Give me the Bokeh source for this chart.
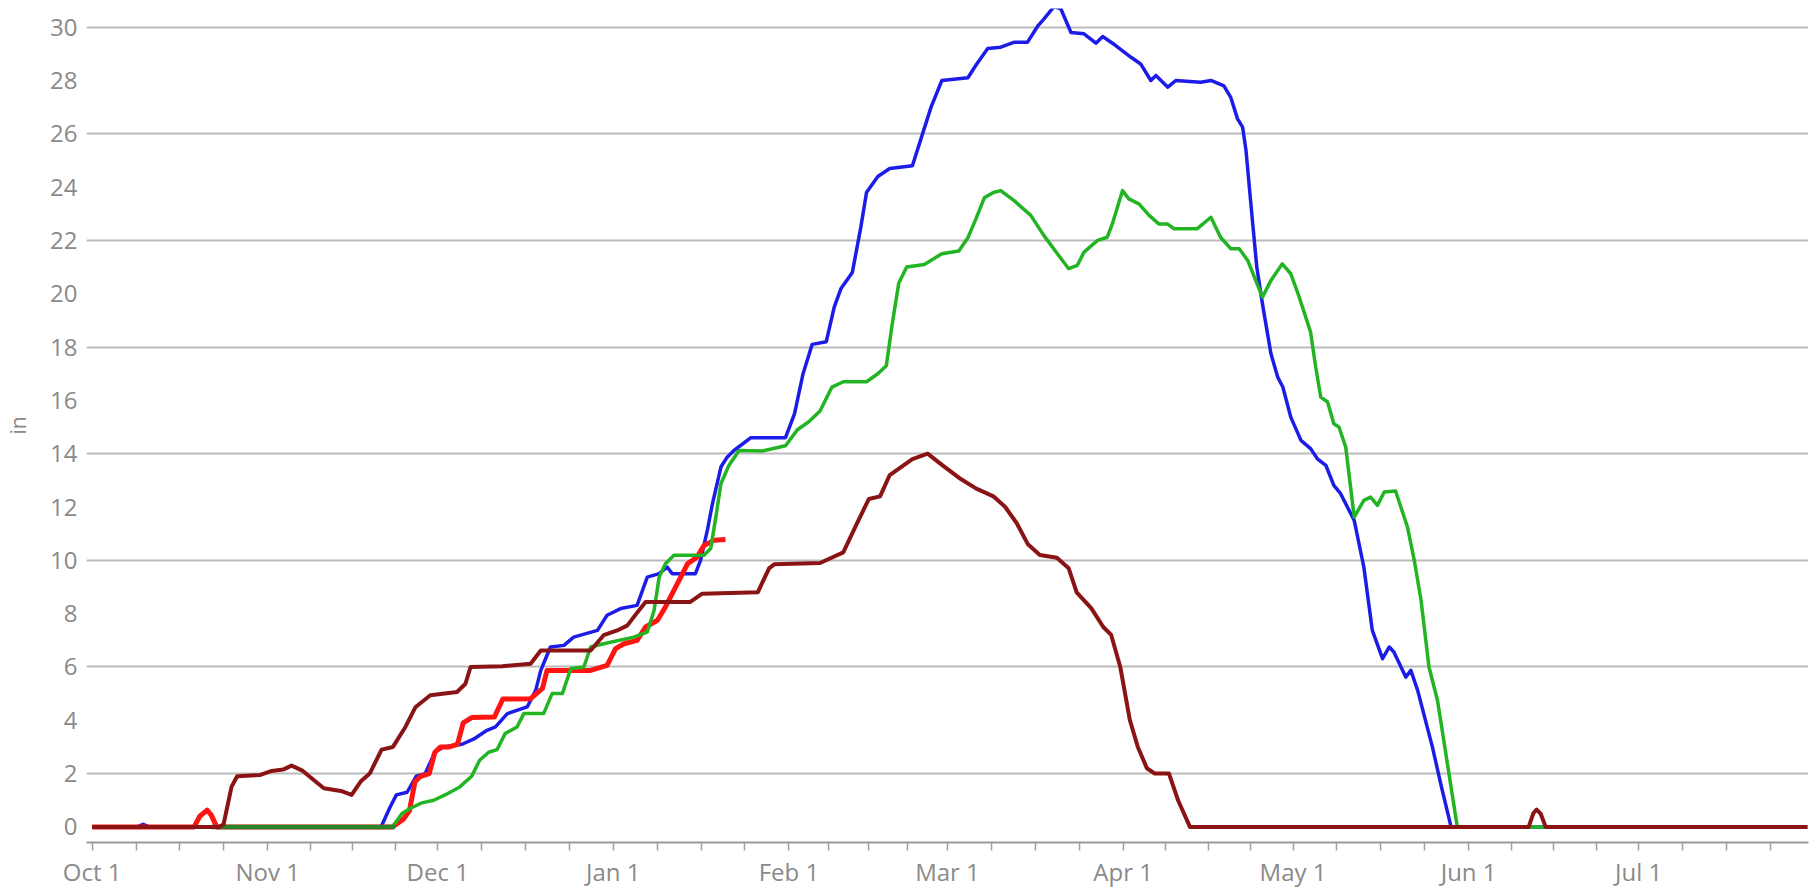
from bokeh.plotting import figure
from bokeh.models import FixedTicker, Range1d
from bokeh.embed import file_html
from bokeh.resources import INLINE

# ---- axis categories (days counted from Oct 1) ----
month_labels = ["Oct 1", "Nov 1", "Dec 1", "Jan 1", "Feb 1",
                "Mar 1", "Apr 1", "May 1", "Jun 1", "Jul 1"]
month_lengths = [31, 30, 31, 31, 28, 31, 30, 31, 30, 31]
y_labels = list(range(0, 32, 2))
grid_values = list(range(2, 32, 4))

# ---- series (day since Oct 1, inches) ----
blue_day = [0, 8, 9, 10, 51, 52.5, 53.7, 55.6, 57.2, 58.8,
            60.5, 62, 65.3, 67.4, 69.5, 71.2, 73.3, 76.8, 78.3, 79.2,
            80.9, 83.3, 85, 89.2, 90.9, 93.3, 96.2, 98, 100.1, 101.5,
            102.4, 106.5, 107.4, 108.6, 109.5, 111, 112.1, 113.3, 116.3, 122.4,
            124, 125.5, 127.1, 129.6, 131, 132.2, 134.2, 135.7, 136.7, 138.7,
            140.8, 144.8, 146.3, 148.1, 150, 154.6, 156.1, 158.1, 160.4, 162.7,
            165.1, 167, 168, 169.8, 171, 172.8, 175.1, 177.2, 178.4, 180.7,
            183.4, 185.1, 186.9, 187.8, 189.9, 191.3, 195.7, 197.5, 199.8, 201,
            202.2, 203.1, 203.7, 204.5, 205.6, 206.6, 208.1, 209.3, 210.2, 211.6,
            213.4, 215.1, 216.3, 217.8, 219.2, 220.4, 222.8, 224.5, 226, 227.8,
            229, 229.8, 231.9, 232.8, 234, 236.6, 238.2, 239.9, 302.8]
blue_in = [0, 0, 0.1, 0, 0, 0.7, 1.2, 1.3, 1.9, 2.0,
           2.8, 3.0, 3.1, 3.3, 3.6, 3.75, 4.25, 4.5, 5.12, 5.87,
           6.75, 6.81, 7.12, 7.37, 7.94, 8.19, 8.31, 9.37, 9.5, 9.75,
           9.5, 9.5, 10.0, 11.12, 12.12, 13.5, 13.87, 14.12, 14.6, 14.6,
           15.5, 17.0, 18.1, 18.2, 19.5, 20.2, 20.8, 22.5, 23.8, 24.4,
           24.7, 24.8, 25.8, 27.0, 28.0, 28.1, 28.6, 29.2, 29.25, 29.43,
           29.43, 30.06, 30.3, 30.77, 30.69, 29.8, 29.75, 29.4, 29.65, 29.31,
           28.87, 28.62, 28.0, 28.19, 27.75, 28.0, 27.93, 28.0, 27.8, 27.37,
           26.56, 26.25, 25.37, 23.5, 21.0, 19.62, 17.75, 16.87, 16.5, 15.37,
           14.5, 14.19, 13.81, 13.56, 12.81, 12.5, 11.5, 9.75, 7.37, 6.31,
           6.75, 6.56, 5.62, 5.87, 5.12, 3.0, 1.5, 0, 0]

green_day = [21, 53, 54.7, 56.2, 58.2, 60.3, 62.3, 64.9, 67, 68.4,
             70, 71.5, 72.9, 75, 76.2, 79.7, 81.2, 83, 84.5, 86.8,
             88, 90.3, 95.6, 98, 99.2, 100.1, 101.2, 102.7, 108, 109.2,
             110.1, 111, 112.4, 114.2, 118.3, 122.4, 124.5, 126.5, 128.5, 130.6,
             132.6, 136.7, 138.7, 140.2, 141.2, 142.4, 143.8, 146.9, 150, 153,
             154.6, 156, 157.5, 159.1, 160.4, 162.7, 165.7, 168, 170.4, 172.4,
             173.9, 175.1, 177.5, 179.2, 180.1, 181.9, 183, 184.8, 186.6, 188.3,
             189.8, 191, 195.1, 197.5, 199.2, 201, 202.5, 204, 206.6, 208.1,
             210.1, 211.6, 213.1, 215.1, 216, 216.9, 218.1, 219.2, 220.1, 221.3,
             222.8, 224.5, 225.7, 226.9, 228.1, 230.1, 232.2, 233.4, 234.6, 236,
             237.5, 241, 302.8]
green_in = [0, 0, 0.5, 0.7, 0.9, 1.0, 1.2, 1.5, 1.9, 2.5,
            2.8, 2.9, 3.5, 3.75, 4.25, 4.25, 5.0, 5.0, 5.94, 6.0,
            6.75, 6.87, 7.12, 7.31, 8.12, 9.37, 9.87, 10.19, 10.19, 10.44,
            11.62, 12.87, 13.56, 14.12, 14.1, 14.3, 14.9, 15.2, 15.6, 16.5,
            16.7, 16.7, 17.0, 17.3, 18.8, 20.4, 21.0, 21.1, 21.5, 21.6,
            22.1, 22.8, 23.6, 23.8, 23.87, 23.5, 22.94, 22.19, 21.5, 20.94,
            21.06, 21.56, 22.0, 22.12, 22.62, 23.87, 23.56, 23.37, 22.94, 22.62,
            22.62, 22.44, 22.44, 22.87, 22.12, 21.69, 21.69, 21.25, 19.87, 20.5,
            21.12, 20.75, 19.87, 18.56, 17.25, 16.12, 15.94, 15.12, 15.0, 14.25,
            11.62, 12.25, 12.37, 12.06, 12.56, 12.6, 11.25, 10.0, 8.5, 6.0,
            4.75, 0, 0]

darkgreen_day = [21, 53.5]
darkgreen_in = [0, 0]

red_day = [0, 18, 19, 20.3, 21, 22, 53, 55, 56, 57,
           58, 59.5, 60.5, 61.5, 63, 64.5, 65.5, 67, 71, 72.5,
           77.4, 79.5, 80.3, 88, 90.9, 92.4, 93.9, 96.2, 97.7, 99.8,
           101.2, 102.7, 103.9, 105.1, 106.8, 108, 109.8, 111.8]
red_in = [0, 0, 0.4, 0.63, 0.45, 0, 0, 0.3, 0.6, 1.7,
          1.9, 2.0, 2.8, 3.0, 3.0, 3.1, 3.9, 4.1, 4.12, 4.8,
          4.81, 5.2, 5.87, 5.87, 6.06, 6.69, 6.87, 7.0, 7.5, 7.75,
          8.25, 8.87, 9.37, 9.87, 10.12, 10.56, 10.75, 10.78]

brown_day = [0, 22.5, 23.2, 24.6, 25.6, 29.7, 31.7, 33.7, 35.2, 37.2,
             38.9, 40.9, 43.9, 45.8, 47.4, 49, 51.1, 53.1, 55.3, 57.1,
             59.7, 64.4, 65.9, 66.8, 72.4, 77.4, 79.2, 88, 90.3, 92.7,
             94.5, 95.6, 97.7, 105.6, 107.7, 117.5, 119.5, 120.4, 128.5, 132.6,
             134.6, 137.1, 139.1, 140.8, 144.8, 147.5, 149.9, 153, 156, 159.1,
             161.2, 163.2, 165.2, 167.3, 170.3, 172.4, 173.8, 176.4, 178.5, 179.9,
             181.5, 183.2, 184.6, 186.2, 187.6, 190.1, 191.7, 193.8, 253.6, 254.4,
             255.0, 255.7, 256.6, 302.8]
brown_in = [0, 0, 0.1, 1.5, 1.9, 1.95, 2.1, 2.15, 2.3, 2.1,
            1.8, 1.45, 1.35, 1.2, 1.7, 2.0, 2.9, 3.0, 3.75, 4.5,
            4.94, 5.06, 5.37, 6.0, 6.03, 6.12, 6.62, 6.62, 7.19, 7.37,
            7.56, 7.87, 8.44, 8.44, 8.75, 8.8, 9.7, 9.85, 9.9, 10.3,
            11.2, 12.3, 12.4, 13.2, 13.8, 14.0, 13.6, 13.1, 12.7, 12.4,
            12.0, 11.4, 10.6, 10.2, 10.1, 9.7, 8.8, 8.2, 7.5, 7.2,
            6.0, 4.0, 3.0, 2.2, 2.0, 2.0, 1.0, 0, 0, 0.5,
            0.65, 0.5, 0, 0]

# ---- ticks ----
month_starts = []
acc = 0
for n in month_lengths:
    month_starts.append(acc)
    acc += n
minor = []
for s, n in zip(month_starts, month_lengths):
    minor += [s + k * n / 4 for k in (1, 2, 3)]

FONT = "Open Sans"
GRAY = "#8a8a8a"

p = figure(frame_width=1722, frame_height=834,
           x_range=Range1d(-1.0, 303.0), y_range=Range1d(-0.585, 30.70),
           output_backend="svg", toolbar_location=None,
           min_border_left=86, min_border_right=2,
           min_border_top=8, min_border_bottom=36)
p.outline_line_color = None
p.background_fill_color = "white"
p.border_fill_color = "white"

p.xgrid.visible = False
p.ygrid.ticker = FixedTicker(ticks=grid_values)
p.ygrid.grid_line_color = "#bcbcbc"
p.ygrid.grid_line_width = 2

xa = p.xaxis[0]
xa.ticker = FixedTicker(ticks=month_starts, minor_ticks=minor)
xa.major_label_overrides = {s: lab for s, lab in zip(month_starts, month_labels)}
xa.axis_line_color = "#9c9c9c"
xa.axis_line_width = 2
xa.major_tick_line_color = "#a0a0a0"
xa.minor_tick_line_color = "#a0a0a0"
xa.major_tick_line_width = 1.5
xa.minor_tick_line_width = 1.5
xa.major_tick_in = 0
xa.major_tick_out = 8
xa.minor_tick_in = 0
xa.minor_tick_out = 8
xa.major_label_standoff = 4
xa.major_label_text_font = FONT
xa.major_label_text_font_size = "24px"
xa.major_label_text_color = GRAY

ya = p.yaxis[0]
ya.ticker = FixedTicker(ticks=y_labels)
ya.axis_line_color = None
ya.major_tick_line_color = None
ya.minor_tick_line_color = None
ya.major_tick_in = 0
ya.major_tick_out = 0
ya.major_label_standoff = 9
ya.major_label_text_font = FONT
ya.major_label_text_font_size = "24px"
ya.major_label_text_color = GRAY
ya.axis_label = "in"
ya.axis_label_text_font = FONT
ya.axis_label_text_font_size = "21px"
ya.axis_label_text_font_style = "normal"
ya.axis_label_text_color = GRAY
ya.axis_label_standoff = 15

p.line(blue_day, blue_in, line_color="#1c1ce8", line_width=3.5, line_join="round")
p.line(red_day, red_in, line_color="#ff1414", line_width=5, line_join="round")
p.line(green_day, green_in, line_color="#22b422", line_width=3.5, line_join="round")
p.line(darkgreen_day, darkgreen_in, line_color="#2a842a", line_width=4.5)
p.line(brown_day, brown_in, line_color="#8a1414", line_width=4, line_join="round")

open("out.html", "w").write(file_html(p, INLINE))
